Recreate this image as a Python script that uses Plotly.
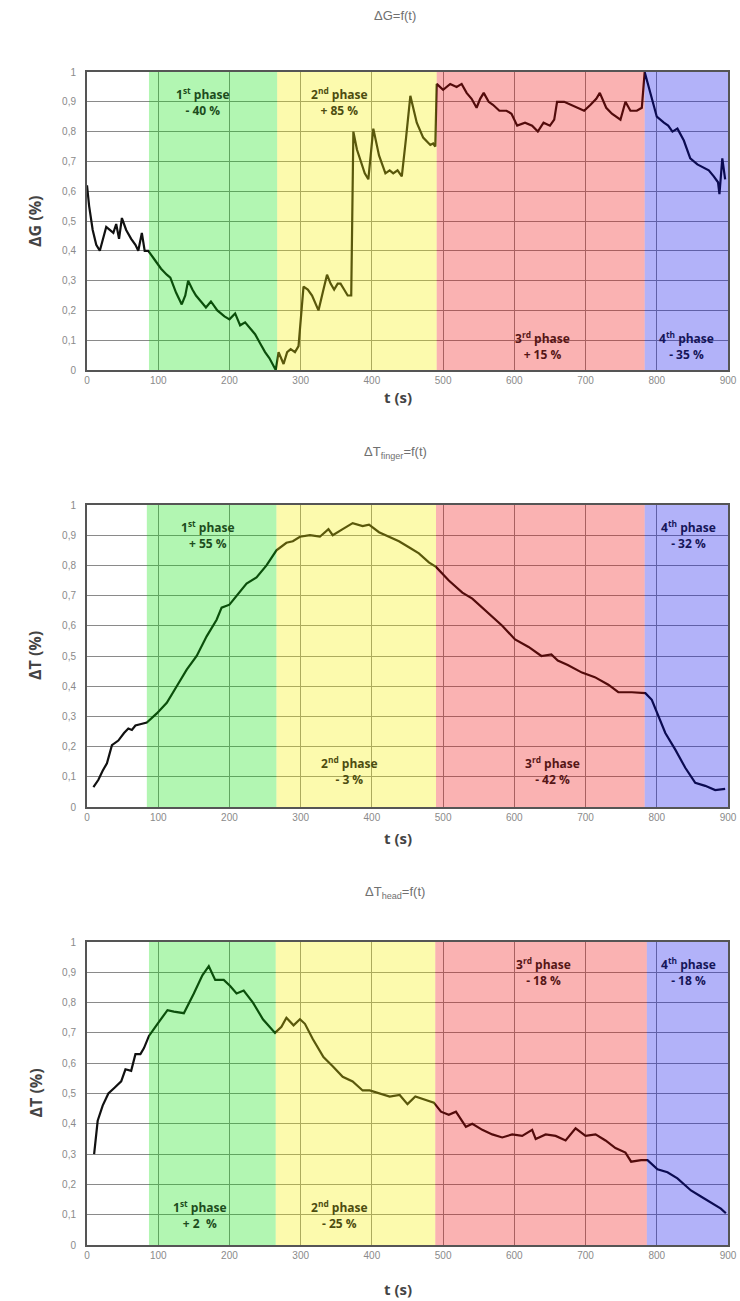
import plotly.graph_objects as go
from plotly.subplots import make_subplots

# --- dados ---
t_g = [0, 3, 8, 13, 18, 22, 27, 32, 37, 41, 45, 49, 55, 62, 68, 72, 77, 81, 86,
       95, 104, 112, 117, 125, 133, 138, 142, 148, 153, 160, 167, 174, 183, 193,
       200, 208, 215, 222, 229, 236, 243, 250, 256, 262, 265, 269, 272, 276, 281,
       286, 292, 297, 304, 310, 316, 325, 331, 337, 342, 347, 352, 356, 361, 366,
       371, 374, 379, 385, 390, 395, 402, 410, 419, 425, 430, 436, 442, 448, 454,
       463, 472, 482, 486, 489, 491, 500, 510, 519, 526, 533, 540, 547, 552, 557,
       564, 570, 579, 589, 596, 604, 615, 625, 633, 641, 650, 656, 660, 670, 680,
       689, 698, 707, 715, 720, 729, 737, 744, 749, 756, 763, 772, 779, 783, 792,
       800, 810, 816, 822, 829, 838, 847, 857, 866, 873, 880, 886, 888, 892, 896]
g_vals = [0.62, 0.55, 0.47, 0.42, 0.40, 0.44, 0.48, 0.47, 0.46, 0.49, 0.44, 0.51,
          0.47, 0.44, 0.42, 0.40, 0.46, 0.40, 0.40, 0.37, 0.34, 0.32, 0.31, 0.26,
          0.22, 0.25, 0.30, 0.27, 0.25, 0.23, 0.21, 0.23, 0.20, 0.18, 0.17, 0.19,
          0.15, 0.16, 0.14, 0.12, 0.09, 0.06, 0.04, 0.01, 0.00, 0.06, 0.04, 0.02,
          0.06, 0.07, 0.06, 0.08, 0.28, 0.27, 0.25, 0.20, 0.26, 0.32, 0.29, 0.27,
          0.29, 0.29, 0.27, 0.25, 0.25, 0.80, 0.74, 0.70, 0.66, 0.64, 0.81, 0.72,
          0.66, 0.67, 0.66, 0.67, 0.65, 0.78, 0.92, 0.83, 0.78, 0.755, 0.76, 0.75,
          0.96, 0.94, 0.96, 0.95, 0.96, 0.93, 0.91, 0.88, 0.91, 0.93, 0.90, 0.89,
          0.87, 0.87, 0.86, 0.82, 0.83, 0.82, 0.80, 0.83, 0.82, 0.84, 0.90, 0.90,
          0.89, 0.88, 0.87, 0.89, 0.91, 0.93, 0.88, 0.86, 0.85, 0.84, 0.90, 0.87,
          0.87, 0.88, 1.00, 0.92, 0.85, 0.83, 0.82, 0.80, 0.81, 0.77, 0.71, 0.69,
          0.68, 0.67, 0.65, 0.63, 0.59, 0.71, 0.64]

t_finger = [9, 16, 22, 28, 35, 44, 52, 58, 63, 68, 76, 84, 98, 112, 126, 140,
            154, 168, 182, 189, 200, 210, 224, 238, 252, 266, 280, 289, 299, 313,
            327, 339, 345, 359, 373, 387, 396, 410, 424, 438, 452, 466, 480, 490,
            508, 527, 541, 560, 583, 601, 620, 638, 652, 661, 675, 695, 713, 732,
            746, 765, 784, 793, 802, 812, 826, 840, 854, 868, 882, 896]
finger_vals = [0.066, 0.09, 0.12, 0.145, 0.205, 0.22, 0.245, 0.26, 0.255, 0.27,
               0.275, 0.28, 0.31, 0.345, 0.40, 0.455, 0.50, 0.565, 0.62, 0.66,
               0.67, 0.70, 0.74, 0.76, 0.80, 0.85, 0.875, 0.88, 0.895, 0.90,
               0.895, 0.92, 0.90, 0.92, 0.94, 0.93, 0.935, 0.91, 0.895, 0.88,
               0.86, 0.84, 0.81, 0.795, 0.75, 0.71, 0.69, 0.65, 0.60, 0.555,
               0.53, 0.50, 0.505, 0.485, 0.47, 0.445, 0.43, 0.405, 0.38, 0.38,
               0.377, 0.355, 0.30, 0.245, 0.19, 0.13, 0.08, 0.07, 0.056, 0.06]

t_head = [10, 15, 22, 30, 39, 48, 54, 62, 68, 75, 80, 87, 99, 113, 122, 136,
          150, 162, 171, 180, 192, 201, 210, 220, 233, 247, 264, 273, 280, 290,
          299, 306, 317, 332, 345, 359, 373, 387, 397, 411, 425, 439, 450, 461,
          473, 487, 497, 508, 518, 532, 541, 555, 569, 583, 597, 611, 625, 630,
          644, 658, 672, 686, 700, 714, 728, 742, 756, 764, 778, 787, 801, 815,
          829, 848, 862, 876, 890, 897]
head_vals = [0.30, 0.41, 0.46, 0.50, 0.52, 0.54, 0.58, 0.575, 0.63, 0.63, 0.65,
             0.69, 0.73, 0.775, 0.77, 0.765, 0.83, 0.89, 0.92, 0.875, 0.875,
             0.855, 0.83, 0.84, 0.80, 0.745, 0.70, 0.72, 0.75, 0.725, 0.745,
             0.73, 0.68, 0.62, 0.59, 0.555, 0.54, 0.51, 0.51, 0.50, 0.49, 0.495,
             0.465, 0.49, 0.48, 0.47, 0.44, 0.43, 0.44, 0.39, 0.40, 0.38, 0.365,
             0.355, 0.365, 0.36, 0.38, 0.35, 0.365, 0.36, 0.345, 0.385, 0.36,
             0.365, 0.345, 0.32, 0.305, 0.275, 0.28, 0.28, 0.25, 0.24, 0.22,
             0.18, 0.16, 0.14, 0.12, 0.105]

# limites das fases (s) para cada gráfico
fases_g = [87, 267, 491, 783, 900]
fases_finger = [84, 266, 490, 783, 900]
fases_head = [87, 265, 489, 786, 900]

# textos das fases: (t, linha1, linha2, posição vertical em fração do eixo)
textos_g = [(163, "1<sup>st</sup> phase", "- 40 %", 0.90),
            (355, "2<sup>nd</sup> phase", "+ 85 %", 0.90),
            (640, "3<sup>rd</sup> phase", "+ 15 %", 0.08),
            (842, "4<sup>th</sup> phase", "- 35 %", 0.08)]
textos_finger = [(170, "1<sup>st</sup> phase", "+ 55 %", 0.90),
                 (368, "2<sup>nd</sup> phase", "- 3 %", 0.12),
                 (653, "3<sup>rd</sup> phase", "- 42 %", 0.12),
                 (845, "4<sup>th</sup> phase", "- 32 %", 0.90)]
textos_head = [(159, "1<sup>st</sup> phase", "+ 2  %", 0.10),
               (355, "2<sup>nd</sup> phase", "- 25 %", 0.10),
               (641, "3<sup>rd</sup> phase", "- 18 %", 0.90),
               (845, "4<sup>th</sup> phase", "- 18 %", 0.90)]

# cores das fases (sobreposição semi-transparente, como no original)
cores_fase = ["rgba(0,225,0,0.30)", "rgba(245,240,0,0.32)",
              "rgba(240,0,0,0.30)", "rgba(0,0,235,0.30)"]
cores_texto = ["#1d4d1d", "#4d4d10", "#551616", "#16165a"]

W, H = 740, 1301
x0_px, x1_px = 87, 728
paineis = [
    (t_g, g_vals, fases_g, textos_g, (72, 370), "ΔG=f(t)", 16, "ΔG (%)", 397),
    (t_finger, finger_vals, fases_finger, textos_finger, (505, 807),
     "ΔT<sub>finger</sub>=f(t)", 453, "ΔT (%)", 838),
    (t_head, head_vals, fases_head, textos_head, (942, 1245),
     "ΔT<sub>head</sub>=f(t)", 892, "ΔT (%)", 1289),
]

fig = make_subplots(rows=3, cols=1)

fonte = "Liberation Sans"
anotacoes = []
formas = []

for i, (tt, vv, fases, textos, (ytop, ybot), titulo, ytit, ylab, yxlab) in enumerate(paineis, start=1):
    fig.add_trace(go.Scatter(
        x=tt, y=vv, mode="lines",
        line=dict(color="#111111", width=2.2),
        showlegend=False, hoverinfo="skip"
    ), row=i, col=1)

    xa = "x" if i == 1 else f"x{i}"
    ya = "y" if i == 1 else f"y{i}"

    # faixas das fases por cima da curva
    for k in range(4):
        formas.append(dict(
            type="rect", xref=xa, yref=f"{ya} domain",
            x0=fases[k], x1=fases[k + 1], y0=0, y1=1,
            fillcolor=cores_fase[k], line=dict(width=0), layer="above"
        ))

    for k, (tx, l1, l2, yy) in enumerate(textos):
        anotacoes.append(dict(
            x=tx, y=yy, xref=xa, yref=f"{ya} domain", yanchor="middle",
            text=f"<b>{l1}<br>{l2}</b>", showarrow=False,
            font=dict(family="Open Sans", size=12, color=cores_texto[k]),
            align="center"
        ))

    # título do gráfico
    anotacoes.append(dict(
        x=395 / W, y=1 - ytit / H, xref="paper", yref="paper", yanchor="middle",
        text=titulo, showarrow=False,
        font=dict(family=fonte, size=13, color="#707070")
    ))
    # títulos dos eixos
    anotacoes.append(dict(
        x=35 / W, y=1 - (ytop + ybot) / 2 / H, xref="paper", yref="paper",
        xanchor="center", yanchor="middle",
        text=f"<b>{ylab}</b>", showarrow=False, textangle=-90,
        font=dict(family="Open Sans", size=16, color="#444444")
    ))
    anotacoes.append(dict(
        x=398 / W, y=1 - yxlab / H, xref="paper", yref="paper", yanchor="middle",
        text="<b>t (s)</b>", showarrow=False,
        font=dict(family="Open Sans", size=15, color="#444444")
    ))

    fig.update_xaxes(
        row=i, col=1,
        domain=[x0_px / W, x1_px / W], automargin=False,
        range=[0, 900], dtick=100, tick0=0,
        showgrid=True, gridcolor="#8a8a8a", gridwidth=1,
        showline=True, mirror=True, linecolor="#555555", linewidth=2,
        zeroline=False, ticks="",
        tickfont=dict(family=fonte, size=10, color="#8a8a8a")
    )
    fig.update_yaxes(
        row=i, col=1,
        domain=[1 - ybot / H, 1 - ytop / H], automargin=False,
        range=[0, 1], dtick=0.1, tick0=0,
        showgrid=True, gridcolor="#8a8a8a", gridwidth=1,
        showline=True, mirror=True, linecolor="#555555", linewidth=2,
        zeroline=False, ticks="", ticklabelstandoff=7,
        tickfont=dict(family=fonte, size=10, color="#8a8a8a")
    )

fig.update_layout(
    width=W, height=H,
    margin=dict(l=0, r=0, t=0, b=0),
    paper_bgcolor="white",
    plot_bgcolor="white",
    separators=", ",
    annotations=anotacoes,
    shapes=formas,
    showlegend=False
)

# sem margem nem barras de rolagem na página
fig.write_html(
    "out.html",
    config={"displayModeBar": False},
    post_script="document.body.style.margin='0';"
                "document.body.style.overflow='hidden';"
                "document.documentElement.style.overflow='hidden';"
)
